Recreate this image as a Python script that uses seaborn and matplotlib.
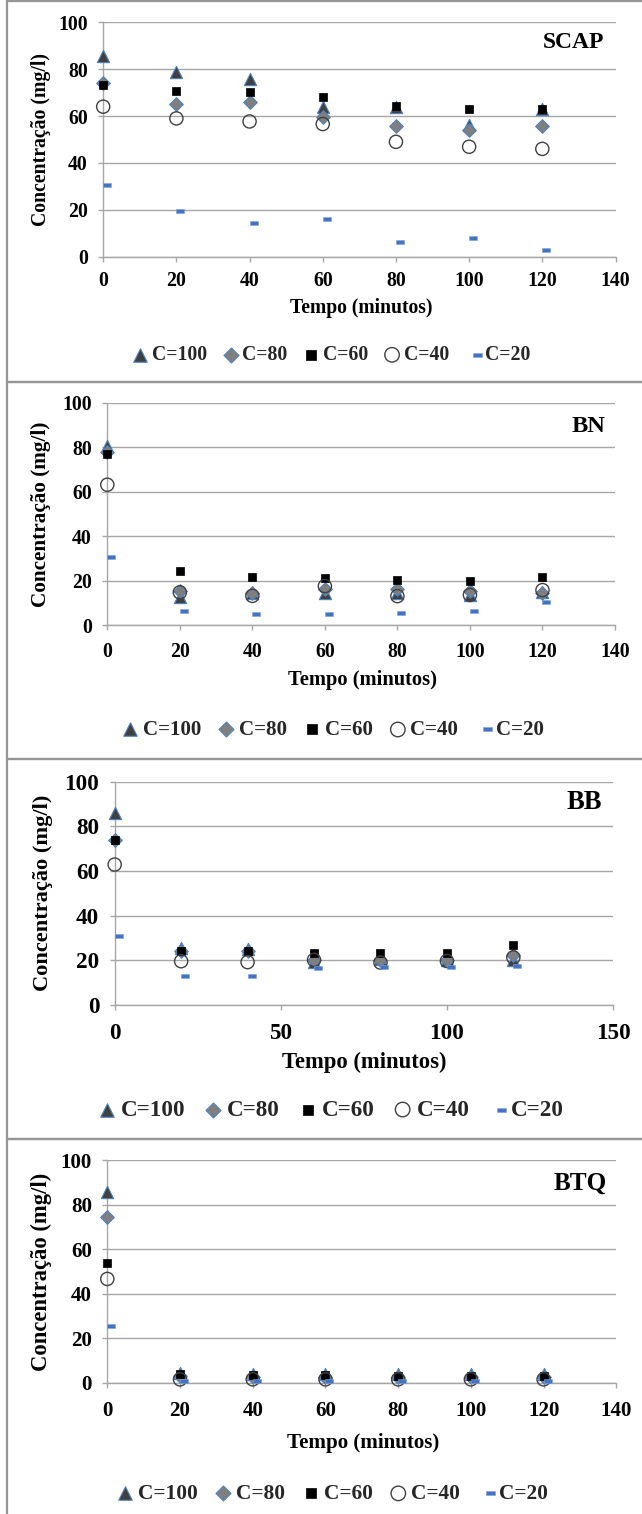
import numpy as np
import matplotlib
matplotlib.use("Agg")
import matplotlib.pyplot as plt
import seaborn as sns
from matplotlib.markers import MarkerStyle
from matplotlib.patches import Rectangle

sns.set_style("white")
plt.rcParams['font.family'] = ['Liberation Serif', 'DejaVu Serif']
plt.rcParams['font.weight'] = 'bold'

# ---------------- data ----------------
tempo = [0, 20, 40, 60, 80, 100, 120]
series_labels = ["C=100", "C=80", "C=60", "C=40", "C=20"]
panel_titles = ["SCAP", "BN", "BB", "BTQ"]
x_label = "Tempo (minutos)"
y_label = "Concentração (mg/l)"
y_ticks = [0, 20, 40, 60, 80, 100]
x_ticks_140 = [0, 20, 40, 60, 80, 100, 120, 140]
x_ticks_150 = [0, 50, 100, 150]

scap_c100 = [85.5, 78.7, 75.9, 64.0, 64.0, 56.0, 62.8]
scap_c80 = [74.1, 65.0, 66.0, 59.7, 55.7, 54.0, 55.7]
scap_c60 = [73.3, 70.6, 70.2, 68.3, 64.5, 63.0, 63.0]
scap_c40 = [64.0, 59.0, 57.7, 56.6, 49.0, 46.9, 46.0]
scap_c20 = [30.5, 19.3, 14.2, 16.2, 6.4, 8.1, 2.7]

bn_c100 = [80.7, 12.5, 14.2, 14.2, 14.2, 13.5, 15.0]
bn_c80 = [78.0, 15.1, 14.2, 16.2, 16.0, 15.4, 14.5]
bn_c60 = [77.0, 24.2, 21.5, 21.1, 20.2, 19.6, 21.4]
bn_c40 = [63.1, 14.7, 13.1, 17.5, 13.0, 13.5, 15.7]
bn_c20 = [30.8, 6.3, 5.1, 5.1, 5.4, 6.2, 10.5]

bb_c100 = [85.8, 25.5, 25.1, 19.2, 20.4, 20.1, 20.0]
bb_c80 = [74.1, 24.4, 24.1, 20.2, 20.1, 20.1, 22.4]
bb_c60 = [73.8, 24.4, 24.1, 23.5, 23.1, 23.4, 26.9]
bb_c40 = [62.9, 19.6, 19.2, 20.2, 19.0, 19.7, 21.3]
bb_c20 = [31.0, 12.9, 12.9, 16.6, 16.9, 16.9, 17.6]

btq_c100 = [85.5, 4.2, 3.9, 3.9, 3.9, 3.9, 3.9]
btq_c80 = [74.6, 2.8, 2.6, 2.6, 2.6, 2.6, 2.6]
btq_c60 = [53.6, 3.9, 3.4, 3.4, 3.1, 3.1, 3.1]
btq_c40 = [46.6, 1.5, 1.5, 1.5, 1.5, 1.5, 1.5]
btq_c20 = [25.6, 0.7, 0.7, 0.7, 0.7, 0.7, 0.7]

panels_data = [
    [scap_c100, scap_c80, scap_c60, scap_c40, scap_c20],
    [bn_c100, bn_c80, bn_c60, bn_c40, bn_c20],
    [bb_c100, bb_c80, bb_c60, bb_c40, bb_c20],
    [btq_c100, btq_c80, btq_c60, btq_c40, btq_c20],
]

# ---------------- styling ----------------
W, H = 642, 1514
fig = plt.figure(figsize=(W / 100, H / 100), dpi=100)

def fx(px):
    return px / W

def fy(py):
    return 1 - py / H

dash_marker = MarkerStyle(np.array([[0.05, -0.2], [1.0, -0.2], [1.0, 0.2],
                                    [0.05, 0.2], [0.05, -0.2]]))
styles = [
    dict(marker="^", s=78, color="#404040", edgecolor="#4F81BD", linewidth=0.8),
    dict(marker="D", s=48, color="#7F7F7F", edgecolor="#4F81BD", linewidth=0.8),
    dict(marker="s", s=38, color="#000000", edgecolor="#000000", linewidth=0.5),
    dict(marker="o", s=90, color="#404040", facecolor="none", edgecolor="#404040", linewidth=1.0),
    dict(marker=dash_marker, s=146, color="#4472C4", edgecolor="#7F9FD6", linewidth=0.4),
]

# layout in pixels: (x0, x1, y100, y0)
axes_px = [
    (103.2, 615.5, 22.3, 256.7),
    (107.3, 615.0, 402.7, 625.0),
    (114.7, 613.0, 781.7, 1005.0),
    (107.3, 616.3, 1160.0, 1382.7),
]
xmax = [140, 140, 150, 140]
xticks_list = [x_ticks_140, x_ticks_140, x_ticks_150, x_ticks_140]
# font sizes: ticks, xlabel, ylabel, legend, title
fonts = [
    (14.2, 14.1, 14.2, 14.2, 16.9),
    (14.2, 14.8, 15.3, 15.1, 17.6),
    (16.7, 16.3, 16.1, 16.7, 19.2),
    (15.1, 15.1, 16.3, 15.4, 18.1),
]
xtick_pad = [6.5, 8.8, 9.5, 9.5]
title_px = [(604, 43), (605, 427), (602, 803), (607, 1183)]
ylabel_px = [(41, 140), (41, 514), (43, 893), (41, 1272)]
xlabel_px = [(361, 308), (362, 680), (364, 1062), (363, 1443)]
legend_px = [(331, 355), (333, 730), (331, 1110), (332, 1494)]
colspace = [0.8, 0.8, 0.8, 0.8]
borders = [(1, 381.7), (381.7, 759), (759, 1139), (1139, 1530)]

grid_c = "#A6A6A6"

for (b0, b1) in borders:
    fig.add_artist(Rectangle((fx(7), fy(b1)), fx(660 - 7), (b1 - b0) / H,
                             transform=fig.transFigure, fill=False,
                             edgecolor="#969696", linewidth=1.6, zorder=0))

for i, data in enumerate(panels_data):
    x0, x1, y100, y0 = axes_px[i]
    ax = fig.add_axes([fx(x0), fy(y0), (x1 - x0) / W, (y0 - y100) / H])
    ax.set_facecolor("none")
    fs_t, fs_xl, fs_yl, fs_lg, fs_ti = fonts[i]
    for lab, vals, st in zip(series_labels, data, styles):
        sns.scatterplot(x=tempo, y=vals, ax=ax, label=lab, legend=False,
                        clip_on=False, zorder=3, **st)
    ax.set_xlim(0, xmax[i])
    ax.set_ylim(0, 100)
    ax.set_xticks(xticks_list[i])
    ax.set_yticks(y_ticks)
    ax.yaxis.grid(True, color=grid_c, linewidth=1.0)
    ax.xaxis.grid(False)
    ax.set_axisbelow(True)
    for sp in ["top", "right"]:
        ax.spines[sp].set_visible(False)
    for sp in ["left", "bottom"]:
        ax.spines[sp].set_color(grid_c)
        ax.spines[sp].set_linewidth(1.0)
    ax.tick_params(axis="both", direction="out", length=3.6, width=1.0,
                   color=grid_c, labelsize=fs_t, labelcolor="black")
    ax.tick_params(axis="y", pad=7.5, left=True)
    ax.tick_params(axis="x", pad=xtick_pad[i], bottom=True)
    for t in ax.get_xticklabels() + ax.get_yticklabels():
        t.set_fontweight("bold")

    axh = y0 - y100
    axw = x1 - x0
    ax.set_xlabel(x_label, fontsize=fs_xl, fontweight="bold", color="black")
    ax.xaxis.label.set_va("center")
    ax.xaxis.set_label_coords((xlabel_px[i][0] - x0) / axw, (y0 - xlabel_px[i][1]) / axh)
    ax.set_ylabel(y_label, fontsize=fs_yl, fontweight="bold", color="black")
    ax.yaxis.label.set_va("center")
    ax.yaxis.set_label_coords((ylabel_px[i][0] - x0) / axw, (y0 - ylabel_px[i][1]) / axh)

    ax.text((title_px[i][0] - x0) / axw, (y0 - title_px[i][1]) / axh, panel_titles[i],
            transform=ax.transAxes, ha="right", va="center",
            fontsize=fs_ti, fontweight="bold", color="black")

    handles, labels = ax.get_legend_handles_labels()
    fig.legend(handles, labels, loc="center",
               bbox_to_anchor=(fx(legend_px[i][0]), fy(legend_px[i][1])),
               ncol=5, frameon=False, handlelength=0.8, handletextpad=0.2,
               columnspacing=colspace[i], borderaxespad=0, borderpad=0,
               markerscale=1.1, prop={"size": fs_lg, "weight": "bold"})

fig.savefig("out.png", dpi=100)
